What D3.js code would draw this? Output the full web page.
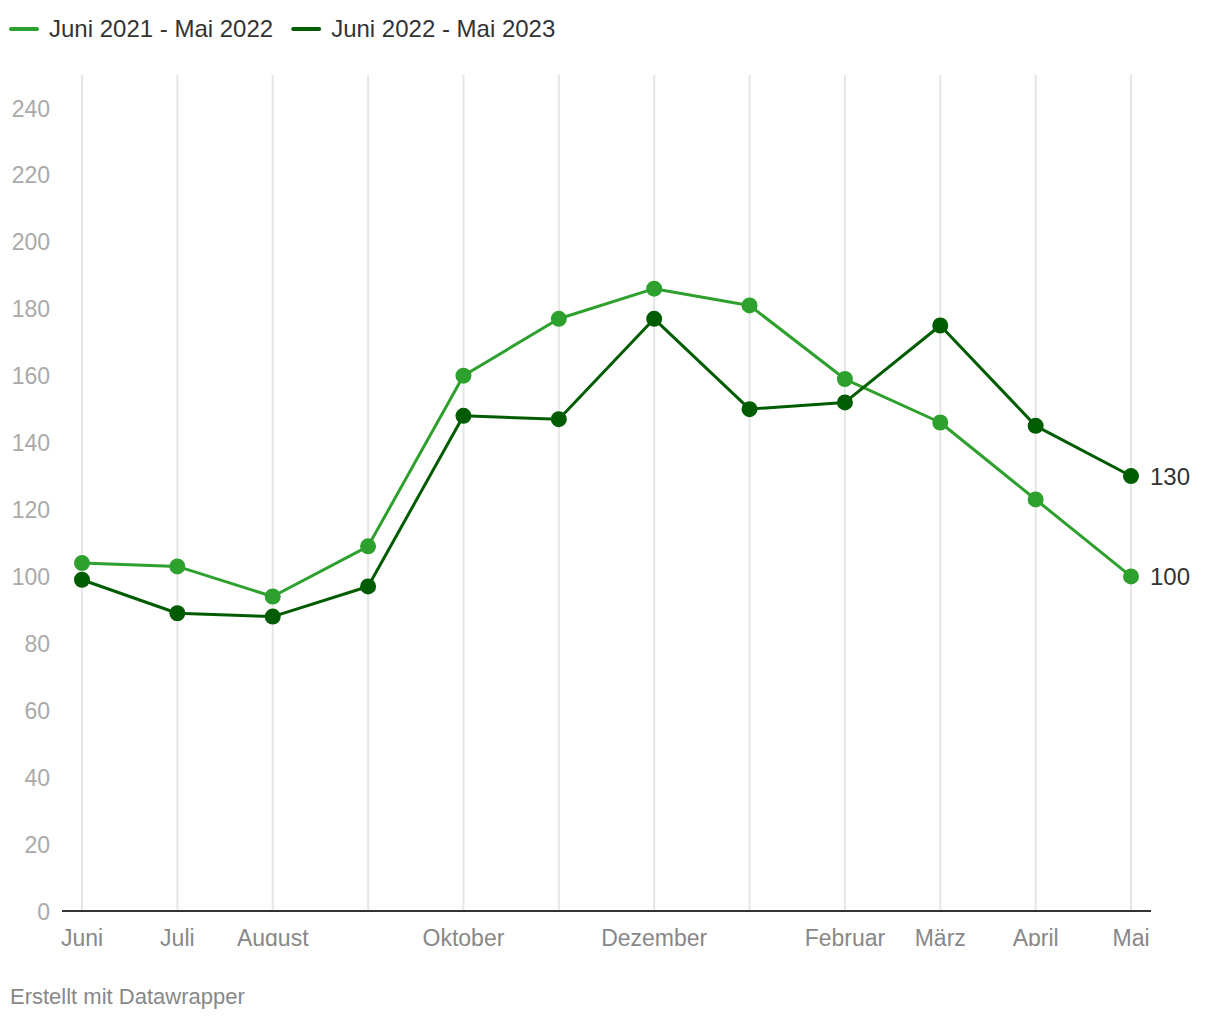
<!DOCTYPE html>
<html>
<head>
<meta charset="utf-8">
<script src="https://cdn.jsdelivr.net/npm/d3@7"></script>
<style>
  body { margin: 0; background: #fff; font-family: "Liberation Sans", Arial, Helvetica, sans-serif; }
  svg { display: block; }
</style>
</head>
<body>
<div id="chart"></div>
<script>
const months = ["Juni", "Juli", "August", "September", "Oktober", "November", "Dezember", "Januar", "Februar", "März", "April", "Mai"]
const monthLabels = ["Juni", "Juli", "August", "", "Oktober", "", "Dezember", "", "Februar", "März", "April", "Mai"]
const series2122 = [104, 103, 94, 109, 160, 177, 186, 181, 159, 146, 123, 100]
const series2223 = [99, 89, 88, 97, 148, 147, 177, 150, 152, 175, 145, 130]
const seriesNames = ["Juni 2021 - Mai 2022", "Juni 2022 - Mai 2023"]
const seriesColors = ["#2ea02d", "#005c00"]
const yTicks = [0, 20, 40, 60, 80, 100, 120, 140, 160, 180, 200, 220, 240]

const width = 1220
const height = 1020

const svg = d3.select('#chart')
  .append('svg')
    .attr('width', width)
    .attr('height', height)

// legend
const legend = svg.append('g')
let lx = 10
seriesNames.forEach((name, i) => {
  const item = legend.append('g').attr('transform', `translate(${lx}, 29)`)
  item.append('line')
    .attr('x1', 1).attr('x2', 27)
    .attr('stroke', seriesColors[i])
    .attr('stroke-width', 4)
    .attr('stroke-linecap', 'round')
  const t = item.append('text')
    .attr('x', 39).attr('y', 8)
    .style('font-size', '24px')
    .style('fill', '#333')
    .text(name)
  lx += 39 + t.node().getComputedTextLength() + 19
})

const x = d3.scalePoint()
  .domain(months)
  .range([82, 1131])

const y = d3.scaleLinear()
  .domain([0, 240])
  .range([911, 108])

// vertical grid
svg.append('g')
  .selectAll('line')
  .data(months)
  .join('line')
    .attr('x1', d => x(d)).attr('x2', d => x(d))
    .attr('y1', 75).attr('y2', 911)
    .attr('stroke', '#e6e6e6')
    .attr('stroke-width', 2)

// y labels
svg.append('g')
  .selectAll('text')
  .data(yTicks)
  .join('text')
    .attr('x', 50)
    .attr('y', d => y(d) + 8.5)
    .attr('text-anchor', 'end')
    .style('font-size', '23px')
    .style('fill', '#aaa')
    .text(d => d)

// baseline
svg.append('line')
  .attr('x1', 62).attr('x2', 1151)
  .attr('y1', y(0)).attr('y2', y(0))
  .attr('stroke', '#333')
  .attr('stroke-width', 2)

// x labels, bottom clipped like the original
svg.append('clipPath').attr('id', 'xclip')
  .append('rect').attr('x', 0).attr('y', 915).attr('width', width).attr('height', 31)

svg.append('g')
  .attr('clip-path', 'url(#xclip)')
  .selectAll('text')
  .data(months)
  .join('text')
    .attr('x', d => x(d))
    .attr('y', 946)
    .attr('text-anchor', 'middle')
    .style('font-size', '23px')
    .style('fill', '#888')
    .text((d, i) => monthLabels[i])

const line = d3.line()
  .x((d, i) => x(months[i]))
  .y(d => y(d))

const allSeries = [series2122, series2223]
allSeries.forEach((vals, i) => {
  const g = svg.append('g')
  g.append('path')
    .datum(vals)
    .attr('d', line)
    .attr('fill', 'none')
    .attr('stroke', seriesColors[i])
    .attr('stroke-width', 3)
    .attr('stroke-linejoin', 'round')
  g.selectAll('circle')
    .data(vals)
    .join('circle')
      .attr('cx', (d, j) => x(months[j]))
      .attr('cy', d => y(d))
      .attr('r', 8)
      .attr('fill', seriesColors[i])
  const last = vals[vals.length - 1]
  g.append('text')
    .attr('x', x(months[months.length - 1]) + 19)
    .attr('y', y(last) + 9)
    .style('font-size', '24px')
    .style('fill', '#333')
    .text(last)
})

// footer
svg.append('text')
  .attr('x', 10).attr('y', 1004)
  .style('font-size', '22px')
  .style('fill', '#888')
  .text('Erstellt mit Datawrapper')
</script>
</body>
</html>
